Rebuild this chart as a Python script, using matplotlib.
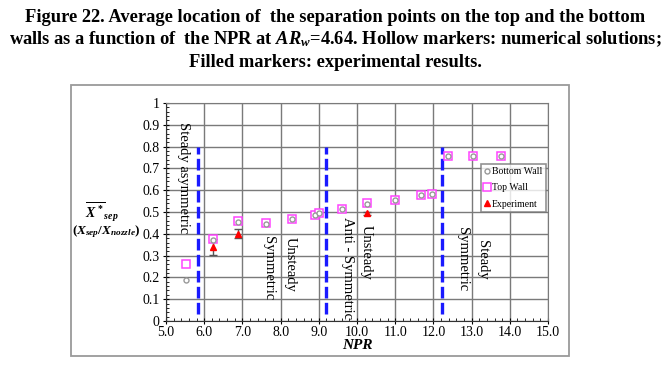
import matplotlib
matplotlib.use("Agg")
import matplotlib.pyplot as plt
from matplotlib.patches import Rectangle
from matplotlib.ticker import MultipleLocator, FixedLocator, FixedFormatter

# data
npr_num = [5.52, 6.22, 6.89, 7.62, 8.29, 8.90, 9.00, 9.60, 10.27, 11.0, 11.68, 11.97, 12.37, 13.04, 13.76]
bottom_wall = [0.188, 0.37, 0.452, 0.447, 0.468, 0.486, 0.496, 0.513, 0.535, 0.557, 0.577, 0.583, 0.758, 0.758, 0.758]
top_wall = [0.26, 0.375, 0.457, 0.449, 0.47, 0.486, 0.497, 0.514, 0.54, 0.557, 0.578, 0.583, 0.758, 0.758, 0.758]

npr_exp = [6.22, 6.89, 10.25]
experiment = [0.34, 0.40, 0.494]
exp_err = [0.035, 0.02, 0.008]

regime_bounds = [5.83, 9.18, 12.22]

regime_labels = ["Steady asymmetric", "Symmetric", "Unsteady", "Anti - Symmetric",
                 "Unsteady", "Symmetric", "Steady"]
regime_label_x = [5.45, 7.68, 8.25, 9.75, 10.25, 12.75, 13.28]
regime_label_top = [0.915, 0.39, 0.385, 0.475, 0.44, 0.43, 0.37]

xticks = [5.0, 6.0, 7.0, 8.0, 9.0, 10.0, 11.0, 12.0, 13.0, 14.0, 15.0]
yticks = [0, 0.1, 0.2, 0.3, 0.4, 0.5, 0.6, 0.7, 0.8, 0.9, 1]
ytick_labels = ["0", "0.1", "0.2", "0.3", "0.4", "0.5", "0.6", "0.7", "0.8", "0.9", "1"]


def main():
    plt.rcParams["font.family"] = ["Liberation Serif", "DejaVu Serif"]
    plt.rcParams["mathtext.fontset"] = "custom"
    plt.rcParams["mathtext.rm"] = "Liberation Serif:bold"
    plt.rcParams["mathtext.bf"] = "Liberation Serif:bold"
    plt.rcParams["mathtext.it"] = "Liberation Serif:italic:bold"

    fig = plt.figure(figsize=(6.71, 3.78), dpi=100)
    ax = fig.add_axes([0.2474, 0.1508, 0.5693, 0.5767])

    # outer frame around the chart
    fig.patches.append(Rectangle((71 / 671, 1 - 356 / 378), 498 / 671, 271 / 378,
                                 transform=fig.transFigure, fill=False,
                                 edgecolor="#9a9a9a", lw=1.3))

    # title
    fig.text(0.5, 0.955, "Figure 22. Average location of  the separation points on the top and the bottom",
             ha="center", va="center", fontsize=13.3, fontweight="bold")
    fig.text(0.5, 0.895, r"walls as a function of  the NPR at $\mathit{AR}_{\mathit{w}}$=4.64. Hollow markers: numerical solutions;",
             ha="center", va="center", fontsize=13.3, fontweight="bold")
    fig.text(0.5, 0.835, "Filled markers: experimental results.",
             ha="center", va="center", fontsize=13.3, fontweight="bold")

    # grid
    ax.set_xlim(5, 15)
    ax.set_ylim(0, 1)
    ax.xaxis.set_major_locator(FixedLocator(xticks))
    ax.xaxis.set_major_formatter(FixedFormatter(["%.1f" % t for t in xticks]))
    ax.yaxis.set_major_locator(FixedLocator(yticks))
    ax.yaxis.set_major_formatter(FixedFormatter(ytick_labels))
    ax.xaxis.set_minor_locator(MultipleLocator(0.2))
    ax.yaxis.set_minor_locator(MultipleLocator(0.02))
    ax.grid(True, which="major", color="#7a7a7a", lw=1.0)
    ax.set_axisbelow(True)
    for s in ["top", "right"]:
        ax.spines[s].set_color("#7a7a7a")
    for s in ["left", "bottom"]:
        ax.spines[s].set_color("#333333")
    ax.tick_params(which="major", direction="inout", length=5, labelsize=10, pad=1)
    ax.tick_params(axis="y", which="major", pad=2)
    ax.tick_params(which="minor", direction="in", length=2.5)

    # regime boundaries
    for xb in regime_bounds:
        ax.plot([xb, xb], [0.03, 0.80], color="#1a1aff", lw=2.4, dashes=(3.5, 1.3), zorder=2)

    # regime labels
    for lab, lx, ly in zip(regime_labels, regime_label_x, regime_label_top):
        ax.text(lx, ly, lab, rotation=-90, ha="center", va="top", fontsize=10.5)

    # data
    ax.errorbar(npr_exp, experiment, yerr=exp_err, fmt="none", ecolor="#555555",
                elinewidth=1.0, capsize=3, zorder=3)
    ax.plot(npr_num, top_wall, ls="none", marker="s", ms=5.5, mfc="white",
            mec="#ff44ff", mew=1.1, label="Top Wall", zorder=4)
    ax.plot(npr_num, bottom_wall, ls="none", marker="o", ms=3.6, mfc="white",
            mec="#999999", mew=1.0, label="Bottom Wall", zorder=5)
    ax.plot(npr_exp, experiment, ls="none", marker="^", ms=5, color="red",
            label="Experiment", zorder=6)

    handles, labels = ax.get_legend_handles_labels()
    order = [1, 0, 2]
    leg = ax.legend([handles[i] for i in order], [labels[i] for i in order],
                    loc="upper left", bbox_to_anchor=(0.824, 0.722),
                    fontsize=7, frameon=True, fancybox=False, handlelength=0.6,
                    handletextpad=0.2, borderpad=0.35, labelspacing=0.75,
                    borderaxespad=0)
    leg.get_frame().set_edgecolor("#777777")
    leg.get_frame().set_linewidth(1.2)

    # axis labels
    ax.set_xlabel("NPR", fontsize=11, fontweight="bold", style="italic", labelpad=0)
    fig.text(0.152, 0.437, r"$\overline{X^*}_{sep}$", ha="center", va="center", fontsize=10)
    fig.text(0.158, 0.386, r"$(X_{sep}/X_{nozzle})$", ha="center", va="center", fontsize=9.5)

    fig.savefig("out.png", dpi=100)


if __name__ == "__main__":
    main()
